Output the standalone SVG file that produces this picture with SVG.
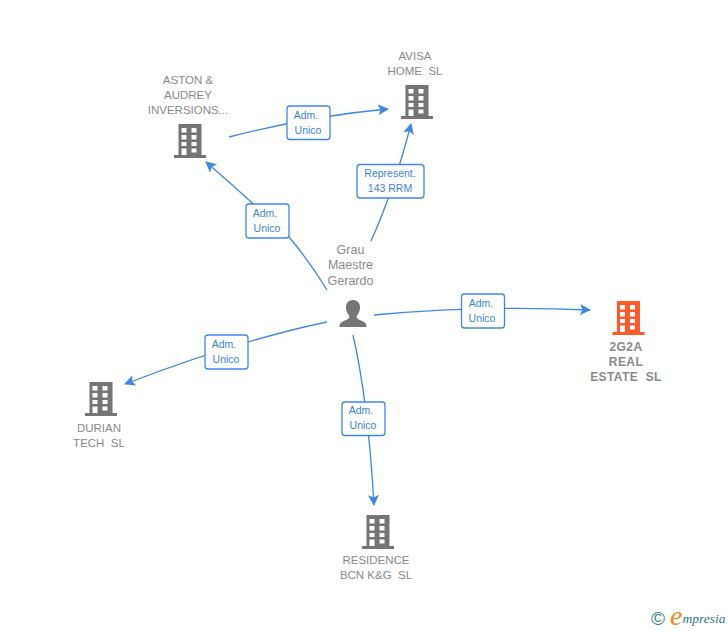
<svg xmlns="http://www.w3.org/2000/svg" width="728" height="630" viewBox="0 0 728 630">
<style>
.n{font-family:"Liberation Sans",Arial,sans-serif;font-size:11.500px;fill:#8a8a8a;text-anchor:middle;white-space:pre}
.g{font-size:12.500px}
.b{font-weight:bold;font-size:12px;letter-spacing:.4px}
.l{font-family:"Liberation Sans",Arial,sans-serif;font-size:10.500px;fill:#3b82e0;text-anchor:middle}
.box{fill:#fff;stroke:#3f88e6;stroke-width:1.3}
.c{fill:none;stroke:#3f88e6;stroke-width:1.3;marker-end:url(#a)}
</style>
<defs>
<marker id="a" markerUnits="userSpaceOnUse" markerWidth="13" markerHeight="12" refX="10" refY="5.500" orient="auto"><path d="M0 0L11 5.500L0 11L2.500 5.500Z" fill="#3f88e6"/></marker>
<symbol id="bld" overflow="visible"><path fill-rule="evenodd" d="M-11.500 0H11.500V31H16V34H-16V31H-11.500ZM-8.500 4V8.500H-3.500V4ZM1.500 4V8.500H6.500V4ZM-8.500 11V15.500H-3.500V11ZM1.500 11V15.500H6.500V11ZM-8.500 18V22H-3.500V18ZM1.500 18V22H6.500V18ZM-8.500 24.500V31H-3.500V24.500ZM1.500 24.500V28.500H6.500V24.500Z"/></symbol>
</defs>
<g id="connectors">
<path class="c" d="M229 137Q310 116 388 109"/>
<path class="c" d="M371 241Q394 190 411 124"/>
<path class="c" d="M327 290Q310 262 289 237Q250 200 206 162"/>
<path class="c" d="M374 315Q480 305 590 310"/>
<path class="c" d="M327 322Q240 340 125 384"/>
<path class="c" d="M353 335Q368 400 374 505"/>
</g>
<g id="edge-labels">
<g><rect class="box" x="287" y="106" width="43" height="33.500" rx="3"/><text class="l" x="306" y="119">Adm.</text><text class="l" x="308" y="134">Unico</text></g>
<g><rect class="box" x="357" y="164.500" width="67" height="33.500" rx="3"/><text class="l" x="390" y="177">Represent.</text><text class="l" x="390" y="192">143 RRM</text></g>
<g><rect class="box" x="246" y="204" width="43" height="34" rx="3"/><text class="l" x="265" y="217">Adm.</text><text class="l" x="267" y="232">Unico</text></g>
<g><rect class="box" x="461.500" y="294" width="43" height="34" rx="3"/><text class="l" x="481" y="307">Adm.</text><text class="l" x="482" y="322">Unico</text></g>
<g><rect class="box" x="205" y="335" width="43" height="34" rx="3"/><text class="l" x="224" y="348">Adm.</text><text class="l" x="226" y="363">Unico</text></g>
<g><rect class="box" x="342" y="402" width="43" height="33.500" rx="3"/><text class="l" x="361" y="414">Adm.</text><text class="l" x="363" y="429">Unico</text></g>
</g>
<g id="aston"><use href="#bld" x="190" y="124" fill="#757575"/><text class="n" x="188" y="84">ASTON &amp;</text><text class="n" x="188" y="99">AUDREY</text><text class="n" x="188" y="114">INVERSIONS...</text></g>
<g id="avisa"><use href="#bld" x="417" y="85" fill="#757575"/><text class="n" x="415" y="60">AVISA</text><text class="n" x="415" y="75">HOME  SL</text></g>
<g id="grau"><path fill="#757575" d="M353 300C348 300 345.500 304 346 308.500C346.500 312 348 314.500 349.500 316C349.500 318 348.500 319 345 320.500C341 322 339.500 323.500 339.500 327H366.500C366.500 323.500 365 322 361 320.500C357.500 319 356.500 318 356.500 316C358 314.500 359.500 312 360 308.500C360.500 304 358 300 353 300Z"/><text class="n g" x="350.500" y="254">Grau</text><text class="n g" x="350.500" y="269">Maestre</text><text class="n g" x="350.500" y="285">Gerardo</text></g>
<g id="g2a"><use href="#bld" x="628.500" y="301" fill="#ff5a2b"/><text class="n b" x="626" y="351">2G2A</text><text class="n b" x="626" y="366">REAL</text><text class="n b" x="626" y="381">ESTATE  SL</text></g>
<g id="durian"><use href="#bld" x="101" y="382" fill="#757575"/><text class="n" x="99" y="432">DURIAN</text><text class="n" x="99" y="447">TECH  SL</text></g>
<g id="residence"><use href="#bld" x="378" y="515" fill="#757575"/><text class="n" x="376" y="564">RESIDENCE</text><text class="n" x="376" y="579">BCN K&amp;G  SL</text></g>
<g id="logo"><text x="658" y="625" font-family="'Liberation Sans',sans-serif" font-size="19" fill="#3d7f95" text-anchor="middle">©</text><text x="670" y="625" font-family="'Liberation Serif',serif" font-style="italic" font-size="28" fill="#f08a1d">e</text><text x="682.500" y="623" font-family="'Liberation Serif',serif" font-style="italic" font-size="13.500" fill="#2f7487">mpresia</text></g>
</svg>
